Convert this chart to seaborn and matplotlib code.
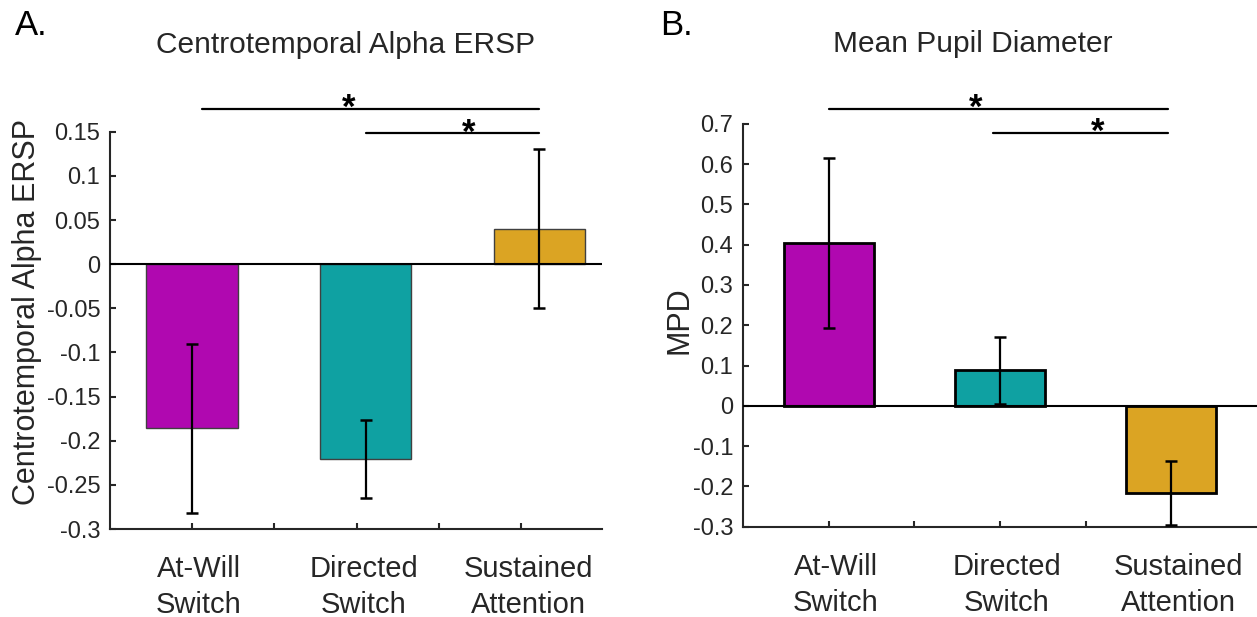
import numpy as np
import matplotlib
matplotlib.use('Agg')
import matplotlib.pyplot as plt
import matplotlib.transforms as mtransforms
import seaborn as sns

# conditions and colours
conditions = ['At-Will\nSwitch', 'Directed\nSwitch', 'Sustained\nAttention']
bar_colors = ['#B008B0', '#0FA1A2', '#DBA423']

# panel A: centrotemporal alpha ERSP (mean, sem)
ersp_mean = [-0.186, -0.221, 0.040]
ersp_sem = [0.096, 0.044, 0.090]
ersp_yticks = [-0.3, -0.25, -0.2, -0.15, -0.1, -0.05, 0, 0.05, 0.1, 0.15]
ersp_yticklabels = ['-0.3', '-0.25', '-0.2', '-0.15', '-0.1', '-0.05', '0', '0.05', '0.1', '0.15']

# panel B: mean pupil diameter (mean, sem)
mpd_mean = [0.404, 0.088, -0.216]
mpd_sem = [0.211, 0.083, 0.080]
mpd_yticks = [-0.3, -0.2, -0.1, 0, 0.1, 0.2, 0.3, 0.4, 0.5, 0.6, 0.7]
mpd_yticklabels = ['-0.3', '-0.2', '-0.1', '0', '0.1', '0.2', '0.3', '0.4', '0.5', '0.6', '0.7']

# significance brackets: (x start, x end, star x, height)
ersp_sig = [(0.06, 2.0, 0.90, 0.1755), (1.0, 2.0, 1.59, 0.148)]
mpd_sig = [(0.0, 1.98, 0.86, 0.736), (0.96, 1.98, 1.57, 0.677)]

DARK = '#262626'


def panel(ax, means, sems, yticks, yticklabels, sig, ylabel,
          xlim, xticks, bar_width, edgecolor, edgewidth):
    sns.barplot(x=conditions, y=means, hue=conditions, palette=bar_colors,
                legend=False, saturation=1, width=bar_width, errorbar=None,
                edgecolor=edgecolor, linewidth=edgewidth, ax=ax, zorder=2)
    ax.errorbar(range(len(means)), means, yerr=sems, fmt='none', ecolor='black',
                elinewidth=1.6, capsize=4, capthick=1.8, zorder=5)
    ax.axhline(0, color='black', lw=1.5, zorder=4)

    ax.set_xlim(*xlim)
    ax.set_ylim(yticks[0], yticks[-1])
    ax.set_yticks(yticks)
    ax.set_yticklabels(yticklabels)
    ax.set_xticks(xticks)
    ax.set_xticklabels([conditions[0], '', conditions[1], '', conditions[2]])

    sns.despine(ax=ax)
    for s in ['left', 'bottom']:
        ax.spines[s].set_color(DARK)
        ax.spines[s].set_linewidth(1.5)
    ax.tick_params(direction='in', length=4, width=1.5, color=DARK,
                   labelcolor=DARK)
    ax.tick_params(axis='y', labelsize=17, pad=7)
    ax.tick_params(axis='x', labelsize=21, pad=19)

    offset = mtransforms.ScaledTranslation(0.07, 0, ax.figure.dpi_scale_trans)
    for lab in ax.get_xticklabels():
        lab.set_linespacing(1.35)
        lab.set_transform(lab.get_transform() + offset)

    ax.set_xlabel('')
    ax.set_ylabel(ylabel, fontsize=22, color=DARK)

    for x0, x1, sx, h in sig:
        ax.plot([x0, x1], [h, h], color='black', lw=1.6, clip_on=False)
        ax.annotate('*', xy=(sx, h), xytext=(0, -6.5), textcoords='offset points',
                    ha='center', va='baseline', fontsize=25, fontweight='bold',
                    color='black', annotation_clip=False)
    return ax


def main():
    sns.set_theme(style='ticks')
    plt.rcParams['font.family'] = ['Liberation Sans', 'DejaVu Sans']

    fig = plt.figure(figsize=(12.57, 6.17), dpi=100)
    ax1 = fig.add_axes([0.0875, 0.1426, 0.3914, 0.6439])
    ax2 = fig.add_axes([0.5911, 0.1463, 0.4089, 0.6532])

    panel(ax1, ersp_mean, ersp_sem, ersp_yticks, ersp_yticklabels, ersp_sig,
          'Centrotemporal Alpha ERSP',
          (-0.472, 2.360), np.linspace(0, 1.894, 5), 0.524, '#404040', 1.0)
    ax1.yaxis.set_label_coords(-0.138, 0.547)
    ax1.text(0.478, 1.198, 'Centrotemporal Alpha ERSP', transform=ax1.transAxes,
             ha='center', va='baseline', fontsize=21.5, color=DARK)

    panel(ax2, mpd_mean, mpd_sem, mpd_yticks, mpd_yticklabels, mpd_sig, 'MPD',
          (-0.5, 2.5), np.linspace(0, 2, 5), 0.525, 'black', 2.0)
    ax2.yaxis.set_label_coords(-0.095, 0.513)
    ax2.text(0.446, 1.178, 'Mean Pupil Diameter', transform=ax2.transAxes,
             ha='center', va='baseline', fontsize=21.5, color=DARK)

    fig.text(15 / 1257, 1 - 35 / 617, 'A.', fontsize=25, va='baseline', color='black')
    fig.text(660 / 1257, 1 - 35 / 617, 'B.', fontsize=25, va='baseline', color='black')

    fig.savefig('out.png', dpi=100)
    plt.close(fig)


if __name__ == '__main__':
    main()
